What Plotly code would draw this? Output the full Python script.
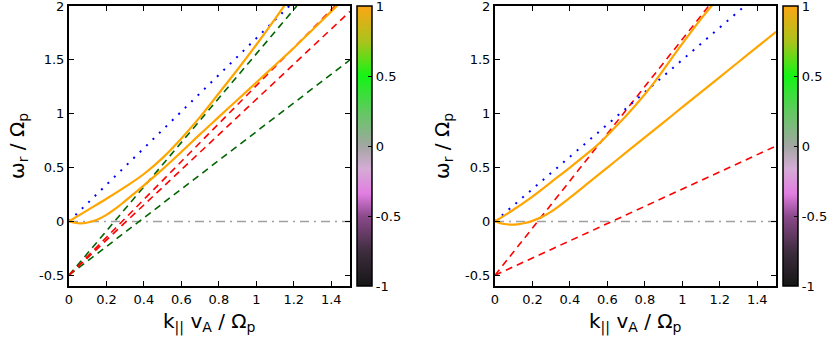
import plotly.graph_objects as go

# ---- panel 1 (left) ----
k_blue_1 = [0.0, 1.176]
w_blue_1 = [0.0, 2.0]

k_zero = [0.0, 1.5]
w_zero = [0.0, 0.0]

k_green_steep_1 = [0.0, 1.216]
w_green_steep_1 = [-0.5, 2.0]
k_green_flat_1 = [0.0, 1.5]
w_green_flat_1 = [-0.5, 1.50]

k_red_a_1 = [0.0, 1.42]
w_red_a_1 = [-0.5, 2.0]
k_red_b_1 = [0.0, 1.5]
w_red_b_1 = [-0.5, 1.95]

k_orange_up_1 = [0.0, 0.1, 0.2, 0.3, 0.4, 0.5, 0.6, 0.7, 0.8, 0.9, 1.0, 1.1, 1.16]
w_orange_up_1 = [0.0, 0.105, 0.21, 0.32, 0.44, 0.59, 0.77, 0.97, 1.19, 1.41, 1.64, 1.88, 2.03]

k_orange_lo_1 = [0.0, 0.03, 0.06, 0.1, 0.15, 0.2, 0.25, 0.3, 0.4, 0.5, 0.6, 0.7, 0.8,
                 0.9, 1.0, 1.1, 1.2, 1.3, 1.4, 1.47]
w_orange_lo_1 = [0.0, -0.012, -0.018, -0.01, 0.015, 0.06, 0.12, 0.19, 0.335, 0.485, 0.645,
                 0.81, 0.97, 1.13, 1.29, 1.45, 1.61, 1.78, 1.95, 2.07]

# ---- panel 2 (right) ----
k_blue_2 = [0.0, 1.333]
w_blue_2 = [0.0, 2.0]

k_red_steep_2 = [0.0, 1.141]
w_red_steep_2 = [-0.5, 2.0]
k_red_flat_2 = [0.0, 1.5]
w_red_flat_2 = [-0.5, 0.70]

k_orange_up_2 = [0.0, 0.1, 0.2, 0.3, 0.4, 0.5, 0.56, 0.6, 0.7, 0.8, 0.85, 0.9, 1.0, 1.1, 1.17]
w_orange_up_2 = [0.0, 0.11, 0.23, 0.365, 0.5, 0.64, 0.73, 0.80, 0.98, 1.18, 1.29, 1.41, 1.65, 1.88, 2.03]

k_orange_lo_2 = [0.0, 0.04, 0.08, 0.12, 0.16, 0.2, 0.25, 0.3, 0.4, 0.5, 0.6, 0.7, 0.8,
                 0.9, 1.0, 1.1, 1.2, 1.3, 1.4, 1.5]
w_orange_lo_2 = [0.0, -0.022, -0.03, -0.027, -0.015, 0.005, 0.04, 0.09, 0.22, 0.36, 0.50,
                 0.64, 0.78, 0.92, 1.06, 1.20, 1.34, 1.48, 1.62, 1.76]

x_ticks = [0, 0.2, 0.4, 0.6, 0.8, 1, 1.2, 1.4]
x_labels = ['0', '0.2', '0.4', '0.6', '0.8', '1', '1.2', '1.4']
y_ticks = [-0.5, 0, 0.5, 1, 1.5, 2]
y_labels = ['-0.5', '0', '0.5', '1', '1.5', '2']
cb_ticks = [-1, -0.5, 0, 0.5, 1]
cb_labels = ['-1', '-0.5', '0', '0.5', '1']

W, H = 830, 338
FONT = "DejaVu Sans"

cscale = [
    [0.0, '#161616'], [0.12, '#3c2c3c'], [0.25, '#8c4a8c'], [0.33, '#e27ee2'],
    [0.42, '#d4acd4'], [0.5, '#a2a6a2'], [0.62, '#62c862'], [0.75, '#14f414'],
    [0.87, '#a8c41c'], [1.0, '#fca614'],
]

fig = go.Figure()


def line(k, w, color, dash, width, xa, ya, shape='linear'):
    fig.add_trace(go.Scatter(x=k, y=w, mode='lines', xaxis=xa, yaxis=ya,
                             line=dict(color=color, dash=dash, width=width, shape=shape),
                             showlegend=False, hoverinfo='skip'))


RED, GREEN, BLUE, ORANGE, GRAY = '#ff0000', '#006400', '#0000ff', '#ffa500', '#a0a0a0'
DASH = '7px,5px'
DOT = '2px,7px'
DASHDOT = '9px,5px,2px,5px'

# left panel
line(k_zero, w_zero, GRAY, DASHDOT, 1.5, 'x', 'y')
line(k_green_steep_1, w_green_steep_1, GREEN, DASH, 1.6, 'x', 'y')
line(k_green_flat_1, w_green_flat_1, GREEN, DASH, 1.6, 'x', 'y')
line(k_red_a_1, w_red_a_1, RED, DASH, 1.6, 'x', 'y')
line(k_red_b_1, w_red_b_1, RED, DASH, 1.6, 'x', 'y')
line(k_blue_1, w_blue_1, BLUE, DOT, 2, 'x', 'y')
line(k_orange_up_1, w_orange_up_1, ORANGE, 'solid', 2.2, 'x', 'y', 'spline')
line(k_orange_lo_1, w_orange_lo_1, ORANGE, 'solid', 2.2, 'x', 'y', 'spline')

# right panel
line(k_zero, w_zero, GRAY, DASHDOT, 1.5, 'x2', 'y2')
line(k_red_steep_2, w_red_steep_2, RED, DASH, 1.6, 'x2', 'y2')
line(k_red_flat_2, w_red_flat_2, RED, DASH, 1.6, 'x2', 'y2')
line(k_blue_2, w_blue_2, BLUE, DOT, 2, 'x2', 'y2')
line(k_orange_up_2, w_orange_up_2, ORANGE, 'solid', 2.2, 'x2', 'y2', 'spline')
line(k_orange_lo_2, w_orange_lo_2, ORANGE, 'solid', 2.2, 'x2', 'y2', 'spline')

# plot area pixel boxes
top_px, bot_px = 6, 286
left1, right1 = 69, 350
left2, right2 = 495, 776
ydom = [1 - bot_px / H, 1 - top_px / H]


def colorbar_for(xa, ya, x_px):
    fig.add_trace(go.Scatter(
        x=[None], y=[None], mode='markers', xaxis=xa, yaxis=ya, showlegend=False,
        marker=dict(color=[0], cmin=-1, cmax=1, colorscale=cscale, showscale=True,
                    colorbar=dict(x=x_px / W, xanchor='left', y=(ydom[0] + ydom[1]) / 2,
                                  yanchor='middle', len=bot_px - top_px, lenmode='pixels',
                                  thickness=15, thicknessmode='pixels', xpad=0, ypad=0,
                                  outlinewidth=1.5, outlinecolor='black',
                                  tickvals=cb_ticks, ticktext=cb_labels,
                                  ticks='inside', ticklen=4, tickcolor='black',
                                  ticklabeloverflow='allow',
                                  tickfont=dict(family=FONT, size=13, color='black'))),
    ))


colorbar_for('x', 'y', 357)
colorbar_for('x2', 'y2', 783)

axis_common = dict(showline=True, linecolor='black', linewidth=2, mirror='allticks',
                   ticks='inside', ticklen=5, tickwidth=1.2, tickcolor='black',
                   showgrid=False, zeroline=False, ticklabeloverflow='allow',
                   tickfont=dict(family=FONT, size=13, color='black'))

fig.update_layout(
    width=W, height=H, margin=dict(l=0, r=0, t=0, b=0, autoexpand=False),
    plot_bgcolor='white', paper_bgcolor='white',
    xaxis=dict(domain=[left1 / W, right1 / W], range=[0, 1.5], tickvals=x_ticks,
               ticktext=x_labels, anchor='y', **axis_common),
    yaxis=dict(domain=ydom, range=[-0.6, 2], tickvals=y_ticks,
               ticktext=y_labels, anchor='x', **axis_common),
    xaxis2=dict(domain=[left2 / W, right2 / W], range=[0, 1.5], tickvals=x_ticks,
                ticktext=x_labels, anchor='y2', **axis_common),
    yaxis2=dict(domain=ydom, range=[-0.6, 2], tickvals=y_ticks,
                ticktext=y_labels, anchor='x2', **axis_common),
)

xtitle = 'k<sub>||</sub> v<sub>A</sub> / Ω<sub>p</sub>'
ytitle = 'ω<sub>r</sub> / Ω<sub>p</sub>'
tfont = dict(family=FONT, size=20, color='black')
for cx, yx in [((left1 + right1) / 2, 18), ((left2 + right2) / 2, 443)]:
    fig.add_annotation(text=xtitle, x=cx / W, y=1 - 322 / H, xref='paper', yref='paper',
                       showarrow=False, font=tfont, xanchor='center', yanchor='middle')
    fig.add_annotation(text=ytitle, x=yx / W, y=1 - 146 / H, xref='paper', yref='paper',
                       showarrow=False, font=tfont, textangle=-90, xanchor='center', yanchor='middle')

# page body has a default 8px margin; drop it so the figure sits at the window corner
fig.write_html("out.html", config={'displayModeBar': False},
               post_script="document.body.style.margin='0';")
